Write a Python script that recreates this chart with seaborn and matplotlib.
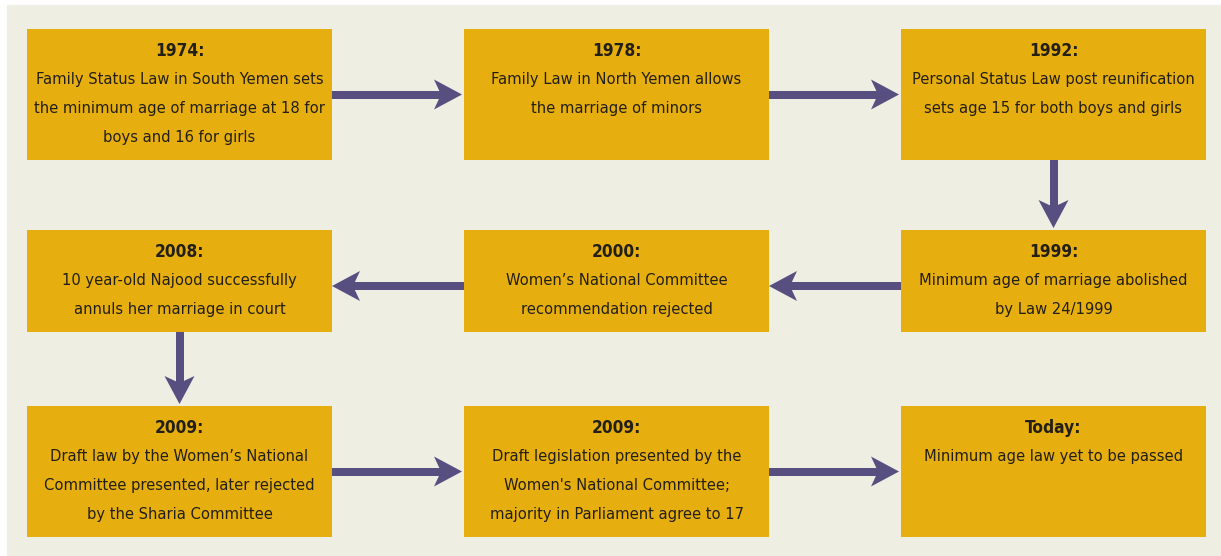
import matplotlib
matplotlib.use("Agg")
import matplotlib.pyplot as plt
import seaborn as sns
from matplotlib import font_manager
from matplotlib.patches import Rectangle, Polygon

sns.set_theme(style="white")

# look for a condensed face, otherwise use a narrow-ish sans
narrow = [f for f in font_manager.fontManager.ttflist
          if f.stretch in ("condensed", "semi-condensed") or
          "Condensed" in f.name or "Narrow" in f.name]
if narrow:
    font_family = [narrow[0].name, 'DejaVu Sans']
    font_stretch = narrow[0].stretch
    font_size = 11.8
else:
    font_family = ['Roboto', 'DejaVu Sans']
    font_stretch = "normal"
    font_size = 12.5
plt.rcParams['font.family'] = font_family

# Timeline content, in reading order (snake layout)
years = ["1974:", "1978:", "1992:",
         "1999:", "2000:", "2008:",
         "2009:", "2009:", "Today:"]
descriptions = [
    ["Family Status Law in South Yemen sets", "the minimum age of marriage at 18 for", "boys and 16 for girls"],
    ["Family Law in North Yemen allows", "the marriage of minors"],
    ["Personal Status Law post reunification", "sets age 15 for both boys and girls"],
    ["Minimum age of marriage abolished", "by Law 24/1999"],
    ["Women\u2019s National Committee", "recommendation rejected"],
    ["10 year-old Najood successfully", "annuls her marriage in court"],
    ["Draft law by the Women\u2019s National", "Committee presented, later rejected", "by the Sharia Committee"],
    ["Draft legislation presented by the", "Women's National Committee;", "majority in Parliament agree to 17"],
    ["Minimum age law yet to be passed"],
]
grid_row = [0, 0, 0, 1, 1, 1, 2, 2, 2]
grid_col = [0, 1, 2, 2, 1, 0, 0, 1, 2]

# layout (pixels)
col_left = [27, 464, 901]
box_w = 305
row_top = [29, 230, 406]
row_h = [131, 102, 131]
arrow_dy = [0, 5, 0]

panel_c = "#EEEEE3"
box_c = "#E6AF0F"
arrow_c = "#564F80"
text_c = "#231F14"

fig = plt.figure(figsize=(12.21, 5.56), dpi=100)
ax = fig.add_axes([0, 0, 1, 1])
ax.set_xlim(0, 1221)
ax.set_ylim(556, 0)
ax.axis("off")

ax.add_patch(Rectangle((7, 5), 1221, 560, color=panel_c, zorder=0))


def box_geom(i):
    x0 = col_left[grid_col[i]]
    y0 = row_top[grid_row[i]]
    return x0, y0, box_w, row_h[grid_row[i]]


def draw_arrow(x0, y0, x1, y1):
    # shaft + swept-back head
    dx, dy = x1 - x0, y1 - y0
    L = (dx ** 2 + dy ** 2) ** 0.5
    ux, uy = dx / L, dy / L
    px, py = -uy, ux
    head_len, notch, half_w, shaft_w = 28, 21, 15, 8
    bx, by = x1 - ux * notch, y1 - uy * notch
    ax.plot([x0, bx], [y0, by], color=arrow_c, lw=shaft_w * 0.72,
            solid_capstyle="butt", zorder=2)
    wx, wy = x1 - ux * head_len, y1 - uy * head_len
    head = [(x1, y1), (wx + px * half_w, wy + py * half_w), (bx, by),
            (wx - px * half_w, wy - py * half_w)]
    ax.add_patch(Polygon(head, closed=True, color=arrow_c, lw=0, zorder=3))


for i in range(len(years)):
    x0, y0, w, h = box_geom(i)
    ax.add_patch(Rectangle((x0, y0), w, h, color=box_c, lw=0, zorder=1))
    cx = x0 + w / 2
    ax.text(cx, y0 + 22, years[i], ha="center", va="center",
            fontsize=font_size + 0.6, fontweight="bold",
            fontstretch=font_stretch, color=text_c, zorder=4)
    for k, line in enumerate(descriptions[i]):
        ax.text(cx, y0 + 22 + 28.7 * (k + 1), line, ha="center", va="center",
                fontsize=font_size, fontstretch=font_stretch, color=text_c, zorder=4)

for i in range(len(years) - 1):
    ax0, ay0, w0, h0 = box_geom(i)
    bx0, by0, w1, h1 = box_geom(i + 1)
    r = grid_row[i]
    if grid_row[i] == grid_row[i + 1]:
        yc = ay0 + h0 / 2 + arrow_dy[r]
        if grid_col[i + 1] > grid_col[i]:
            draw_arrow(ax0 + w0, yc, bx0 - 2, yc)
        else:
            draw_arrow(ax0, yc, bx0 + w1, yc)
    else:
        xc = ax0 + w0 / 2
        draw_arrow(xc, ay0 + h0, xc, by0 - 2)

fig.savefig("out.png", dpi=100)
